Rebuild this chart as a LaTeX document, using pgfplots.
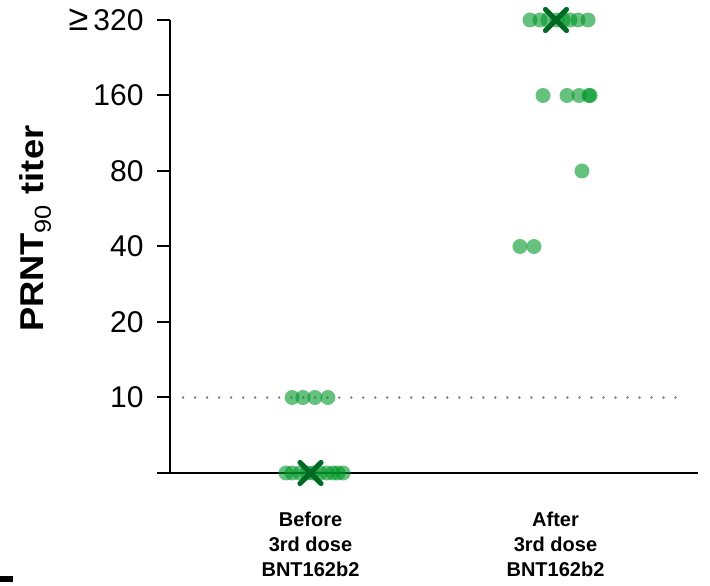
\documentclass[border=0pt]{standalone}
\usepackage{fontspec}
\setmainfont{Liberation Sans}
\usepackage{pgfplots}
\pgfplotsset{compat=1.18}
\definecolor{dotgreen}{RGB}{0,150,40}
\definecolor{medgreen}{RGB}{0,105,35}
\begin{document}
\begin{tikzpicture}
\path[use as bounding box] (0,0) rectangle (710bp,586bp);
\fill[black] (0,4bp) rectangle (13bp,10bp);
\begin{axis}[
  at={(170bp,113bp)}, anchor=south west,
  width=528bp, height=453bp, scale only axis,
  xmin=0.4265, xmax=2.5816,
  ymode=log, log basis y=2, ymin=5, ymax=320,
  axis x line=bottom, axis y line=left,
  axis line style={-, line width=2bp, black},
  xtick={1,2},
  xticklabels={{Before\\3rd dose\\BNT162b2},{After\\3rd dose\\BNT162b2}},
  xticklabel style={align=center, font=\bfseries\fontsize{20bp}{25bp}\selectfont, yshift=-23bp},
  xtick style={draw=none},
  ytick={5,10,20,40,80,160,320},
  yticklabels={,10,20,40,80,160,{{\fontsize{36bp}{36bp}\selectfont ≥}\hspace{5bp}320}},
  yticklabel style={font=\fontsize{30bp}{36bp}\selectfont, xshift=-10bp},
  tick align=outside, major tick length=13bp,
  ytick style={line width=2bp, black},
  ylabel={\bfseries PRNT\textsubscript{\mdseries 90} titer},
  ylabel style={font=\fontsize{33bp}{36bp}\selectfont, at={(axis description cs:-0.255,0.539)}, anchor=center, xscale=1.1},
  clip=false,
]
% threshold line at 10
\addplot[gray, line width=2.6bp, line cap=round, dash pattern=on 0.01bp off 12bp] coordinates {(0.48,10) (2.533,10)};
\pgfplotsset{dots/.style={only marks, mark=*, mark size=7.5bp, mark options={draw=dotgreen, draw opacity=0, line width=0pt, fill=dotgreen, fill opacity=0.6}}}
% Before 3rd dose: titer 10
\addplot[dots] coordinates {
(0.925,10) (0.969,10) (1.018,10) (1.071,10)};
% Before 3rd dose: below detection (<10)
\addplot[dots] coordinates {
(0.900,5) (0.925,5) (0.957,5) (0.986,5) (1.010,5) (1.039,5) (1.067,5) (1.092,5) (1.112,5) (1.133,5)};
% After 3rd dose
\addplot[dots] coordinates {
(1.896,320) (1.937,320) (1.969,320) (2.006,320) (2.031,320) (2.059,320) (2.092,320) (2.133,320)
(1.949,160) (2.047,160) (2.096,160) (2.137,160) (2.141,160)
(2.108,80)
(1.855,40) (1.912,40)};
% medians
\addplot[only marks, mark=x, mark size=15bp, mark options={draw=medgreen, line width=5bp, line cap=round}] coordinates {(1.0,5) (2.002,320)};
\end{axis}
\end{tikzpicture}
\end{document}
